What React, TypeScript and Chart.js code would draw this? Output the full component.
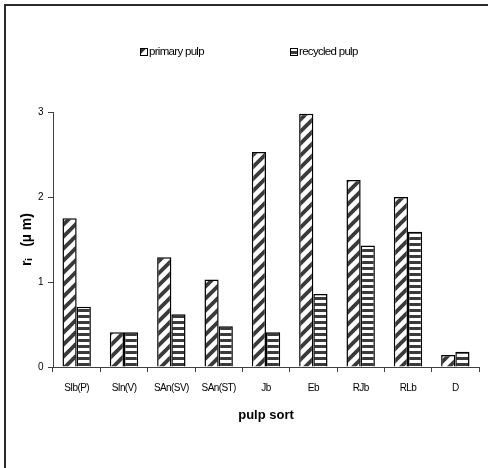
import { useEffect, useRef } from "react";
import { Chart, registerables } from "chart.js";

Chart.register(...registerables);

// Mean pore radius by pulp sort
const categories = ["SIb(P)", "SIn(V)", "SAn(SV)", "SAn(ST)", "Jb", "Eb", "RJb", "RLb", "D"];
const primaryPulp = [1.75, 0.41, 1.29, 1.03, 2.53, 2.98, 2.2, 2.0, 0.14];
const recycledPulp = [0.71, 0.41, 0.62, 0.48, 0.41, 0.86, 1.43, 1.59, 0.18];
const seriesNames = ["primary pulp", "recycled pulp"];
const yTickValues = [0, 1, 2, 3];

const SANS = "'Liberation Sans', Arial, 'DejaVu Sans', sans-serif";
const STRIPE = "#3a3a3a";
const TIGHT = "-0.6px"; // tighter tracking for tick labels

function diagonalPattern(ctx: CanvasRenderingContext2D): CanvasPattern {
  const c = document.createElement("canvas");
  c.width = 12;
  c.height = 12;
  const g = c.getContext("2d")!;
  g.fillStyle = "#ffffff";
  g.fillRect(0, 0, 12, 12);
  g.strokeStyle = STRIPE;
  g.lineWidth = 3.8;
  g.beginPath();
  g.moveTo(-3, 15);
  g.lineTo(15, -3);
  g.moveTo(-3, 3);
  g.lineTo(3, -3);
  g.moveTo(9, 15);
  g.lineTo(15, 9);
  g.stroke();
  return ctx.createPattern(c, "repeat")!;
}

function horizontalPattern(ctx: CanvasRenderingContext2D): CanvasPattern {
  const c = document.createElement("canvas");
  c.width = 6;
  c.height = 6;
  const g = c.getContext("2d")!;
  g.fillStyle = "#ffffff";
  g.fillRect(0, 0, 6, 6);
  g.fillStyle = STRIPE;
  g.fillRect(0, 3, 6, 3);
  return ctx.createPattern(c, "repeat")!;
}

// Frame round the whole chart (only its left and top edges fall inside the canvas)
const framePlugin = {
  id: "frame",
  beforeDraw(chart: Chart) {
    const ctx = chart.ctx as any;
    ctx.letterSpacing = "0px";
    ctx.save();
    ctx.fillStyle = "#ffffff";
    ctx.fillRect(0, 0, chart.width, chart.height);
    ctx.fillStyle = "#2b2b2b";
    ctx.fillRect(4, 4, chart.width, 2);
    ctx.fillRect(4, 4, 2, chart.height);
    ctx.restore();
  },
  // tick labels are drawn after the bars (ticks.z = 1) with tighter tracking
  afterDatasetsDraw(chart: Chart) {
    (chart.ctx as any).letterSpacing = TIGHT;
  },
  afterDraw(chart: Chart) {
    (chart.ctx as any).letterSpacing = "0px";
  },
};

// Legend with two widely spaced entries above the plot
const legendPlugin = {
  id: "pulpLegend",
  afterDraw(chart: Chart, _args: unknown, opts: { xs: number[]; y: number }) {
    const ctx = chart.ctx as any;
    ctx.save();
    chart.data.datasets.forEach((ds, i) => {
      const x = opts.xs[i];
      const y = opts.y;
      ctx.fillStyle = ds.backgroundColor as CanvasPattern;
      ctx.fillRect(x, y - 4, 8, 8);
      ctx.strokeStyle = "#000";
      ctx.lineWidth = 1;
      ctx.strokeRect(x + 0.5, y - 3.5, 7, 7);
      ctx.fillStyle = "#000";
      ctx.font = `11.5px ${SANS}`;
      ctx.letterSpacing = "-0.7px";
      ctx.textBaseline = "middle";
      ctx.textAlign = "left";
      ctx.fillText(ds.label as string, x + 9, y);
    });
    ctx.restore();
  },
};

export default function App() {
  const canvasRef = useRef<HTMLCanvasElement | null>(null);

  useEffect(() => {
    const canvas = canvasRef.current;
    if (!canvas) return;
    const ctx = canvas.getContext("2d")!;
    const chart = new Chart(canvas, {
      type: "bar",
      data: {
        labels: categories,
        datasets: [
          {
            label: seriesNames[0],
            data: primaryPulp,
            backgroundColor: diagonalPattern(ctx),
            borderColor: "#000",
            borderWidth: 1.5,
          },
          {
            label: seriesNames[1],
            data: recycledPulp,
            backgroundColor: horizontalPattern(ctx),
            borderColor: "#000",
            borderWidth: 1.5,
          },
        ],
      },
      options: {
        responsive: false,
        animation: false,
        devicePixelRatio: 1,
        layout: { padding: { top: 112, right: 9, bottom: 0, left: 0 } },
        datasets: { bar: { categoryPercentage: 0.6, barPercentage: 1.0 } },
        plugins: {
          legend: { display: false },
          tooltip: { enabled: false },
          pulpLegend: { xs: [140, 290], y: 52 },
        } as any,
        scales: {
          x: {
            grid: {
              display: true,
              drawOnChartArea: false,
              drawTicks: true,
              tickLength: 5,
              color: "#404040",
              offset: true,
            },
            border: { display: true, color: "#404040", width: 1 },
            ticks: {
              color: "#000",
              font: { family: SANS, size: 10 },
              padding: 10,
              maxRotation: 0,
              autoSkip: false,
              z: 1,
            },
            title: {
              display: true,
              text: "pulp sort",
              color: "#000",
              font: { family: SANS, size: 13, weight: "bold" },
              padding: { top: 0, bottom: 45 },
            },
            afterFit: (s: any) => {
              s.height = 101;
            },
          },
          y: {
            min: 0,
            max: 3,
            afterBuildTicks: (s: any) => {
              s.ticks = yTickValues.map((v) => ({ value: v }));
            },
            grid: {
              display: true,
              drawOnChartArea: false,
              drawTicks: true,
              tickLength: 5,
              color: "#404040",
            },
            border: { display: true, color: "#404040", width: 1 },
            ticks: {
              color: "#000",
              font: { family: SANS, size: 10 },
              padding: 5,
              z: 1,
            },
            title: {
              display: true,
              text: "r\u1D62   (\u00B5 m)",
              color: "#000",
              font: { family: SANS, size: 14, weight: "bold" },
              padding: { top: 18.5, bottom: 0 },
            },
            afterFit: (s: any) => {
              s.width = 53;
            },
          },
        },
      },
      plugins: [framePlugin, legendPlugin],
    });
    return () => chart.destroy();
  }, []);

  return (
    <div style={{ position: "fixed", left: 0, top: 0, width: 488, height: 468, background: "#fff" }}>
      <canvas ref={canvasRef} width={488} height={468} style={{ display: "block" }} />
    </div>
  );
}
